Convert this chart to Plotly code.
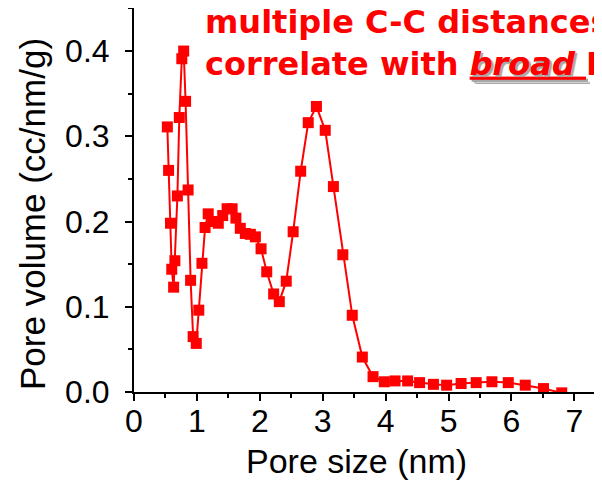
import plotly.graph_objects as go

# pore size distribution
pore_size = [0.53, 0.55, 0.58, 0.60, 0.63, 0.65, 0.69, 0.72, 0.76, 0.79,
             0.82, 0.86, 0.90, 0.94, 0.99, 1.03, 1.08, 1.13, 1.18, 1.25,
             1.34, 1.41, 1.48, 1.56, 1.62, 1.69, 1.77, 1.85, 1.93, 2.02,
             2.11, 2.22, 2.31, 2.42, 2.53, 2.65, 2.77, 2.90, 3.04, 3.17,
             3.32, 3.47, 3.63, 3.80, 3.98, 4.15, 4.35, 4.54, 4.76, 4.97,
             5.20, 5.44, 5.69, 5.95, 6.22, 6.51, 6.80]
pore_volume = [0.311, 0.260, 0.198, 0.144, 0.123, 0.154, 0.230, 0.322, 0.391, 0.400,
               0.341, 0.237, 0.131, 0.065, 0.057, 0.096, 0.151, 0.193, 0.209, 0.200,
               0.198, 0.207, 0.215, 0.215, 0.204, 0.192, 0.186, 0.185, 0.182, 0.168,
               0.141, 0.115, 0.106, 0.130, 0.188, 0.259, 0.316, 0.335, 0.307, 0.241,
               0.161, 0.090, 0.041, 0.018, 0.012, 0.013, 0.013, 0.011, 0.009, 0.008,
               0.010, 0.011, 0.012, 0.011, 0.008, 0.004, -0.001]

x_title = "Pore size (nm)"
y_title = "Pore volume (cc/nm/g)"
note_line1 = "multiple C-C distances"
note_line2 = "correlate with"
note_em = "broad"
note_tail = "PSD"

RED = "#ff0000"

fig = go.Figure()
fig.add_trace(go.Scatter(
    x=pore_size, y=pore_volume,
    mode="lines+markers",
    line=dict(color=RED, width=2),
    marker=dict(symbol="square", size=11, color=RED, line=dict(width=0)),
    showlegend=False,
))

axis_common = dict(
    showline=True, linecolor="black", linewidth=2,
    ticks="outside", tickcolor="black", tickwidth=2, ticklen=7,
    showgrid=False, zeroline=False, automargin=False,
    tickfont=dict(family="Liberation Sans, Arial, sans-serif", size=32, color="black"),
)

fig.update_xaxes(
    range=[0, 7.44], dtick=1, tick0=0,
    minor=dict(dtick=0.5, ticks="outside", ticklen=4, tickwidth=2, tickcolor="black"),
    ticklabelstandoff=-7,
    **axis_common,
)
fig.update_yaxes(
    range=[0, 0.4505], dtick=0.1, tick0=0, tickformat=".1f",
    minor=dict(dtick=0.05, ticks="outside", ticklen=4, tickwidth=2, tickcolor="black"),
    ticklabelstandoff=9,
    **axis_common,
)

fig.add_annotation(
    text=x_title, xref="paper", yref="paper", x=0.4755, y=-0.18,
    xanchor="center", yanchor="middle", showarrow=False,
    font=dict(family="Liberation Sans, Arial, sans-serif", size=34, color="black"),
)
fig.add_annotation(
    text=y_title, xref="paper", yref="paper", x=-0.218, y=0.4635,
    xanchor="center", yanchor="middle", textangle=-90, showarrow=False,
    font=dict(family="Liberation Sans, Arial, sans-serif", size=35, color="black"),
)
fig.add_annotation(
    text=(f"{note_line1}<br>{note_line2} "
          f"<span style='text-decoration:underline;text-shadow:2px 2px 1px #a8a8a8'>"
          f"<i>{note_em} </i></span>{note_tail}"),
    xref="paper", yref="paper", x=0.1474, y=1.018,
    xanchor="left", yanchor="top", align="left", showarrow=False,
    font=dict(family="DejaVu Sans, sans-serif", size=32, color=RED, weight="bold"),
)

# page body keeps an 8px margin, so the figure is 8px smaller than the window
fig.update_layout(
    width=594, height=472,
    margin=dict(l=126, r=0, t=0, b=88),
    plot_bgcolor="white", paper_bgcolor="white",
)

fig.write_html("out.html")
